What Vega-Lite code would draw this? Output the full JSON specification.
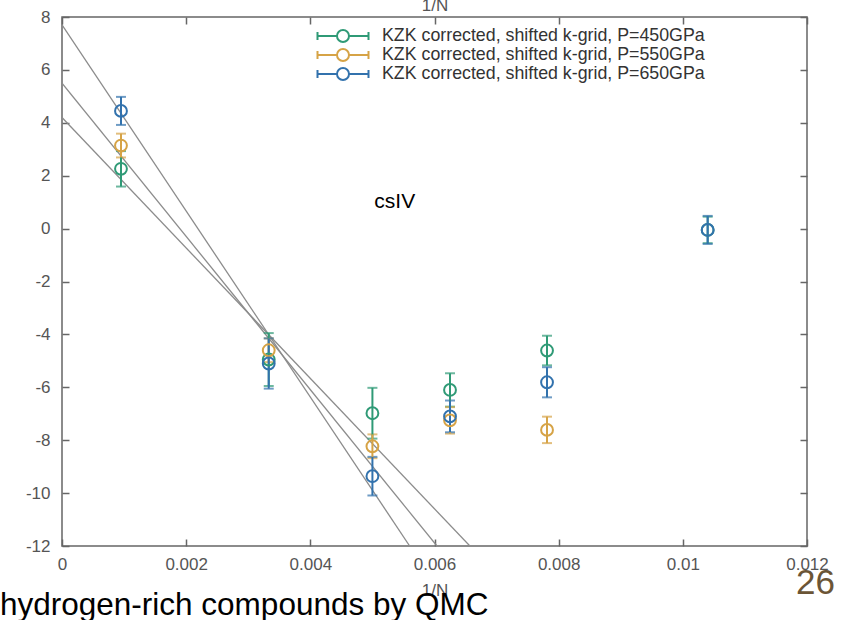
{
  "$schema": "https://vega.github.io/schema/vega-lite/v6.json",
  "width": 745,
  "height": 529,
  "autosize": "none",
  "padding": {"left": 62, "top": 17, "right": 56, "bottom": 74},
  "background": "white",
  "view": {"stroke": "#666666", "strokeWidth": 1.5},
  "config": {
    "font": "Liberation Sans",
    "axis": {"grid": false, "domain": false, "labelFont": "Liberation Sans", "titleFont": "Liberation Sans", "titleFontWeight": "normal"},
    "legend": {"title": null, "orient": "none", "legendX": 272, "legendY": 10,
      "symbolType": "M-3.1875,0H-0.75M0.75,0H3.1875M-3.1875,-0.5V0.5M3.1875,-0.5V0.5M-0.75,0A0.75,0.75,0,1,0,0.75,0A0.75,0.75,0,1,0,-0.75,0Z",
      "symbolSize": 256, "symbolStrokeWidth": 2, "labelFontSize": 17.8, "labelColor": "#333333", "labelFont": "Liberation Sans",
      "labelOffset": 30, "rowPadding": -2, "padding": 0, "labelLimit": 600}
  },
  "title": {
    "text": "hydrogen-rich compounds by QMC",
    "orient": "bottom",
    "anchor": "start",
    "frame": "group",
    "font": "Liberation Sans",
    "fontSize": 31.5,
    "fontWeight": "normal",
    "color": "#000000",
    "dx": -62,
    "dy": -10,
    "offset": 0
  },
  "datasets": {
    "pts": [
      {"n": 0.00095, "E": 2.26, "err": 0.67, "series": "KZK corrected, shifted k-grid, P=450GPa"},
      {"n": 0.00095, "E": 3.14, "err": 0.45, "series": "KZK corrected, shifted k-grid, P=550GPa"},
      {"n": 0.00095, "E": 4.45, "err": 0.53, "series": "KZK corrected, shifted k-grid, P=650GPa"},
      {"n": 0.00333, "E": -4.95, "err": 1.0, "series": "KZK corrected, shifted k-grid, P=450GPa"},
      {"n": 0.00333, "E": -4.6, "err": 0.45, "series": "KZK corrected, shifted k-grid, P=550GPa"},
      {"n": 0.00333, "E": -5.1, "err": 0.95, "series": "KZK corrected, shifted k-grid, P=650GPa"},
      {"n": 0.005, "E": -6.98, "err": 0.96, "series": "KZK corrected, shifted k-grid, P=450GPa"},
      {"n": 0.005, "E": -8.23, "err": 0.45, "series": "KZK corrected, shifted k-grid, P=550GPa"},
      {"n": 0.005, "E": -9.36, "err": 0.73, "series": "KZK corrected, shifted k-grid, P=650GPa"},
      {"n": 0.00625, "E": -6.1, "err": 0.63, "series": "KZK corrected, shifted k-grid, P=450GPa"},
      {"n": 0.00625, "E": -7.25, "err": 0.5, "series": "KZK corrected, shifted k-grid, P=550GPa"},
      {"n": 0.00625, "E": -7.1, "err": 0.6, "series": "KZK corrected, shifted k-grid, P=650GPa"},
      {"n": 0.0078125, "E": -4.61, "err": 0.56, "series": "KZK corrected, shifted k-grid, P=450GPa"},
      {"n": 0.0078125, "E": -7.61, "err": 0.5, "series": "KZK corrected, shifted k-grid, P=550GPa"},
      {"n": 0.0078125, "E": -5.81, "err": 0.57, "series": "KZK corrected, shifted k-grid, P=650GPa"},
      {"n": 0.0104, "E": -0.05, "err": 0.5, "series": "KZK corrected, shifted k-grid, P=450GPa"},
      {"n": 0.0104, "E": -0.05, "err": 0.53, "series": "KZK corrected, shifted k-grid, P=650GPa"}
    ],
    "fits": [
      {"series": "P=450GPa", "x": 0, "y": 4.2},
      {"series": "P=450GPa", "x": 0.00657, "y": -12},
      {"series": "P=550GPa", "x": 0, "y": 5.5},
      {"series": "P=550GPa", "x": 0.00604, "y": -12},
      {"series": "P=650GPa", "x": 0, "y": 7.7},
      {"series": "P=650GPa", "x": 0.0056, "y": -12}
    ],
    "notes": [
      {"x": 0.00536, "y": 1.0, "label": "csIV"}
    ]
  },
  "resolve": {"axis": {"x": "independent", "y": "independent"}, "legend": {"color": "independent"}},
  "layer": [
    {
      "data": {"name": "fits"},
      "mark": {"type": "line", "color": "#8c8c8c", "strokeWidth": 1.3, "clip": true},
      "encoding": {
        "x": {"field": "x", "type": "quantitative", "scale": {"domain": [0, 0.012], "nice": false, "zero": false},
          "axis": {"orient": "bottom", "values": [0, 0.002, 0.004, 0.006, 0.008, 0.01, 0.012], "format": ".3~f",
            "labelFlush": false, "labelFontSize": 17, "labelColor": "#555555", "labelPadding": 17,
            "ticks": true, "tickSize": -7, "tickColor": "#666666", "tickWidth": 1.5,
            "title": "1/N", "titleFontSize": 17, "titleColor": "#555555", "titlePadding": 10}},
        "y": {"field": "y", "type": "quantitative", "scale": {"domain": [-12, 8], "nice": false, "zero": false},
          "axis": {"orient": "left", "values": [-12, -10, -8, -6, -4, -2, 0, 2, 4, 6, 8],
            "labelExpr": "replace(datum.label, '−', '-')",
            "labelFlush": false, "labelFontSize": 17, "labelColor": "#555555", "labelPadding": 19,
            "ticks": true, "tickSize": -7, "tickColor": "#666666", "tickWidth": 1.5, "title": null}},
        "detail": {"field": "series", "type": "nominal"}
      }
    },
    {
      "data": {"name": "pts"},
      "mark": {"type": "errorbar", "ticks": true, "size": 10, "thickness": 2},
      "encoding": {
        "x": {"field": "n", "type": "quantitative", "axis": null},
        "y": {"field": "E", "type": "quantitative", "axis": null},
        "yError": {"field": "err"},
        "color": {"field": "series", "type": "nominal", "legend": null}
      }
    },
    {
      "data": {"name": "pts"},
      "mark": {"type": "point", "shape": "circle", "filled": false, "size": 140, "strokeWidth": 2, "opacity": 1},
      "encoding": {
        "x": {"field": "n", "type": "quantitative",
          "axis": {"orient": "top", "values": [0, 0.002, 0.004, 0.006, 0.008, 0.01, 0.012], "labels": false,
            "ticks": true, "tickSize": -7, "tickColor": "#666666", "tickWidth": 1.5,
            "title": "1/N", "titleFontSize": 17, "titleColor": "#555555", "titlePadding": 2}},
        "y": {"field": "E", "type": "quantitative",
          "axis": {"orient": "right", "values": [-12, -10, -8, -6, -4, -2, 0, 2, 4, 6, 8], "labels": false,
            "ticks": true, "tickSize": -7, "tickColor": "#666666", "tickWidth": 1.5,
            "title": "26", "titleAngle": 0, "titleFontSize": 35, "titleColor": "#6b5536",
            "titleAlign": "center", "titleBaseline": "alphabetic", "titleX": 8, "titleY": 576}},
        "color": {"field": "series", "type": "nominal",
          "scale": {"domain": ["KZK corrected, shifted k-grid, P=450GPa", "KZK corrected, shifted k-grid, P=550GPa", "KZK corrected, shifted k-grid, P=650GPa"],
            "range": ["#2f9a76", "#d6a346", "#3272ad"]},
          "legend": {"symbolFillColor": "transparent"}}
      }
    },
    {
      "data": {"name": "notes"},
      "mark": {"type": "text", "font": "Liberation Sans", "fontSize": 21, "color": "#000000", "align": "center", "baseline": "middle"},
      "encoding": {
        "x": {"field": "x", "type": "quantitative", "axis": null},
        "y": {"field": "y", "type": "quantitative", "axis": null},
        "text": {"field": "label"}
      }
    }
  ]
}
